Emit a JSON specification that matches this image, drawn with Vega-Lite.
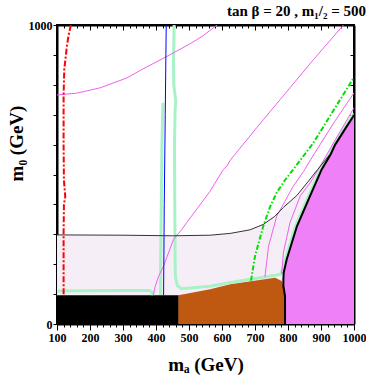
{
  "$schema": "https://vega.github.io/schema/vega-lite/v6.json",
  "width": 297,
  "height": 299,
  "autosize": "none",
  "padding": {"left": 57, "top": 25, "right": 12, "bottom": 58},
  "background": "white",
  "config": {
    "view": {"stroke": "black", "strokeWidth": 2},
    "axis": {"grid": false, "labelFont": "Liberation Serif", "labelFontWeight": "bold", "labelFontSize": 12, "labelColor": "black", "titleFont": "Liberation Serif", "titleFontWeight": "bold", "titleFontSize": 19, "titleColor": "black", "domainColor": "black", "domainWidth": 2, "tickColor": "black", "tickWidth": 1, "format": "d"}
  },
  "title": {"text": "tan β = 20 , m₁/₂ = 500", "anchor": "end", "font": "Liberation Serif", "fontSize": 15, "fontWeight": "bold", "color": "black", "offset": 0},
  "datasets": {
    "lav": [
      {"mA": 100, "m0": 298}, {"mA": 300, "m0": 297}, {"mA": 450, "m0": 295}, {"mA": 564, "m0": 297},
      {"mA": 625, "m0": 303}, {"mA": 685, "m0": 315}, {"mA": 725, "m0": 333}, {"mA": 760, "m0": 360},
      {"mA": 786, "m0": 390}, {"mA": 827, "m0": 430}, {"mA": 860, "m0": 475}, {"mA": 890, "m0": 517},
      {"mA": 927, "m0": 567}
    ],
    "blk": [{"mA": 100, "m0": 96}, {"mA": 469, "m0": 96}],
    "brn": [
      {"mA": 468, "m0": 96}, {"mA": 564, "m0": 116}, {"mA": 625, "m0": 133}, {"mA": 761, "m0": 155},
      {"mA": 781, "m0": 144}, {"mA": 786, "m0": 127}, {"mA": 791, "m0": 93}
    ],
    "pnk": [
      {"m0": 0, "mA": 791}, {"m0": 93, "mA": 791}, {"m0": 127, "mA": 786}, {"m0": 149, "mA": 786},
      {"m0": 172, "mA": 787}, {"m0": 216, "mA": 796}, {"m0": 327, "mA": 827}, {"m0": 416, "mA": 862},
      {"m0": 517, "mA": 902}, {"m0": 567, "mA": 929}, {"m0": 600, "mA": 943}, {"m0": 661, "mA": 978},
      {"m0": 695, "mA": 998}, {"m0": 700, "mA": 1000}
    ],
    "ln": [
      {"id": "mintR", "i": 0, "mA": 455, "m0": 1000}, {"id": "mintR", "i": 1, "mA": 453, "m0": 870},
      {"id": "mintR", "i": 2, "mA": 454, "m0": 800}, {"id": "mintR", "i": 3, "mA": 460, "m0": 745},
      {"id": "mintR", "i": 4, "mA": 458, "m0": 720}, {"id": "mintR", "i": 5, "mA": 456, "m0": 600},
      {"id": "mintR", "i": 6, "mA": 457, "m0": 400}, {"id": "mintR", "i": 7, "mA": 458, "m0": 200},
      {"id": "mintR", "i": 8, "mA": 459, "m0": 155}, {"id": "mintR", "i": 9, "mA": 465, "m0": 128},
      {"id": "mintR", "i": 10, "mA": 478, "m0": 118}, {"id": "mintR", "i": 11, "mA": 564, "m0": 126},
      {"id": "mintR", "i": 12, "mA": 625, "m0": 139}, {"id": "mintR", "i": 13, "mA": 766, "m0": 164},
      {"id": "mintR", "i": 14, "mA": 779, "m0": 167}, {"id": "mintR", "i": 15, "mA": 784, "m0": 185},
      {"id": "mintR", "i": 16, "mA": 792, "m0": 216}, {"id": "mintR", "i": 17, "mA": 822, "m0": 325},
      {"id": "mintR", "i": 18, "mA": 857, "m0": 414}, {"id": "mintR", "i": 19, "mA": 897, "m0": 514},
      {"id": "mintR", "i": 20, "mA": 924, "m0": 565}, {"id": "mintR", "i": 21, "mA": 938, "m0": 598},
      {"id": "mintR", "i": 22, "mA": 973, "m0": 660}, {"id": "mintR", "i": 23, "mA": 995, "m0": 696},
      {"id": "mintR", "i": 24, "mA": 1000, "m0": 704},
      {"id": "mintL", "i": 0, "mA": 421, "m0": 740}, {"id": "mintL", "i": 1, "mA": 418, "m0": 600},
      {"id": "mintL", "i": 2, "mA": 416, "m0": 400}, {"id": "mintL", "i": 3, "mA": 414, "m0": 200},
      {"id": "mintL", "i": 4, "mA": 414, "m0": 97},
      {"id": "mintH", "i": 0, "mA": 101, "m0": 110}, {"id": "mintH", "i": 1, "mA": 200, "m0": 111},
      {"id": "mintH", "i": 2, "mA": 300, "m0": 112}, {"id": "mintH", "i": 3, "mA": 380, "m0": 112},
      {"id": "mintH", "i": 4, "mA": 388, "m0": 106}, {"id": "mintH", "i": 5, "mA": 391, "m0": 97},
      {"id": "blue", "i": 0, "mA": 431, "m0": 1000}, {"id": "blue", "i": 1, "mA": 428, "m0": 700},
      {"id": "blue", "i": 2, "mA": 425, "m0": 400}, {"id": "blue", "i": 3, "mA": 423, "m0": 96},
      {"id": "red", "i": 0, "mA": 142, "m0": 1000}, {"id": "red", "i": 1, "mA": 135, "m0": 965},
      {"id": "red", "i": 2, "mA": 130, "m0": 929}, {"id": "red", "i": 3, "mA": 122, "m0": 851},
      {"id": "red", "i": 4, "mA": 120, "m0": 765}, {"id": "red", "i": 5, "mA": 120, "m0": 600},
      {"id": "red", "i": 6, "mA": 121, "m0": 480}, {"id": "red", "i": 7, "mA": 124, "m0": 440},
      {"id": "red", "i": 8, "mA": 125, "m0": 425}, {"id": "red", "i": 9, "mA": 121, "m0": 400},
      {"id": "red", "i": 10, "mA": 120, "m0": 300}, {"id": "red", "i": 11, "mA": 120, "m0": 200},
      {"id": "red", "i": 12, "mA": 120, "m0": 97},
      {"id": "L1", "i": 0, "mA": 100, "m0": 766}, {"id": "L1", "i": 1, "mA": 160, "m0": 772},
      {"id": "L1", "i": 2, "mA": 231, "m0": 790}, {"id": "L1", "i": 3, "mA": 312, "m0": 823},
      {"id": "L1", "i": 4, "mA": 352, "m0": 848}, {"id": "L1", "i": 5, "mA": 433, "m0": 895},
      {"id": "L1", "i": 6, "mA": 500, "m0": 935}, {"id": "L1", "i": 7, "mA": 540, "m0": 962},
      {"id": "L1", "i": 8, "mA": 585, "m0": 1000},
      {"id": "L2", "i": 0, "mA": 392, "m0": 96}, {"id": "L2", "i": 1, "mA": 396, "m0": 120},
      {"id": "L2", "i": 2, "mA": 408, "m0": 160}, {"id": "L2", "i": 3, "mA": 423, "m0": 194},
      {"id": "L2", "i": 4, "mA": 453, "m0": 283}, {"id": "L2", "i": 5, "mA": 478, "m0": 316},
      {"id": "L2", "i": 6, "mA": 493, "m0": 339}, {"id": "L2", "i": 7, "mA": 564, "m0": 444},
      {"id": "L2", "i": 8, "mA": 604, "m0": 517}, {"id": "L2", "i": 9, "mA": 615, "m0": 528},
      {"id": "L2", "i": 10, "mA": 625, "m0": 548}, {"id": "L2", "i": 11, "mA": 705, "m0": 656},
      {"id": "L2", "i": 12, "mA": 725, "m0": 683}, {"id": "L2", "i": 13, "mA": 877, "m0": 884},
      {"id": "L2", "i": 14, "mA": 968, "m0": 1000},
      {"id": "L3", "i": 0, "mA": 730, "m0": 157}, {"id": "L3", "i": 1, "mA": 741, "m0": 260},
      {"id": "L3", "i": 2, "mA": 766, "m0": 361}, {"id": "L3", "i": 3, "mA": 816, "m0": 461},
      {"id": "L3", "i": 4, "mA": 847, "m0": 510}, {"id": "L3", "i": 5, "mA": 880, "m0": 570},
      {"id": "L3", "i": 6, "mA": 940, "m0": 675}, {"id": "L3", "i": 7, "mA": 1000, "m0": 773},
      {"id": "L4", "i": 0, "mA": 781, "m0": 168}, {"id": "L4", "i": 1, "mA": 786, "m0": 238},
      {"id": "L4", "i": 2, "mA": 806, "m0": 339}, {"id": "L4", "i": 3, "mA": 837, "m0": 428},
      {"id": "L4", "i": 4, "mA": 867, "m0": 472}, {"id": "L4", "i": 5, "mA": 892, "m0": 517},
      {"id": "L4", "i": 6, "mA": 940, "m0": 610}, {"id": "L4", "i": 7, "mA": 1000, "m0": 723},
      {"id": "gdd", "i": 0, "mA": 688, "m0": 145}, {"id": "gdd", "i": 1, "mA": 700, "m0": 227},
      {"id": "gdd", "i": 2, "mA": 725, "m0": 327}, {"id": "gdd", "i": 3, "mA": 745, "m0": 390},
      {"id": "gdd", "i": 4, "mA": 766, "m0": 440}, {"id": "gdd", "i": 5, "mA": 790, "m0": 480},
      {"id": "gdd", "i": 6, "mA": 816, "m0": 517}, {"id": "gdd", "i": 7, "mA": 877, "m0": 606},
      {"id": "gdd", "i": 8, "mA": 927, "m0": 695}, {"id": "gdd", "i": 9, "mA": 1000, "m0": 825}
    ]
  },
  "resolve": {"axis": {"x": "independent", "y": "independent"}},
  "layer": [
    {
      "data": {"name": "lav"},
      "mark": {"type": "area", "color": "#f6eef6", "clip": true},
      "encoding": {
        "x": {"field": "mA", "type": "quantitative", "scale": {"domain": [100, 1000], "nice": false, "zero": false},
          "axis": {"orient": "bottom", "title": "mₐ (GeV)", "values": [100,120,140,160,180,200,220,240,260,280,300,320,340,360,380,400,420,440,460,480,500,520,540,560,580,600,620,640,660,680,700,720,740,760,780,800,820,840,860,880,900,920,940,960,980,1000],
            "labelExpr": "datum.value % 100 === 0 ? datum.label : ''", "labelOverlap": false, "labelFlush": false, "labelPadding": 2,
            "tickSize": {"condition": {"test": "datum.value % 100 === 0", "value": 6}, "value": 3},
            "titleY": 46, "titleBaseline": "alphabetic"}},
        "y": {"field": "m0", "type": "quantitative", "scale": {"domain": [0, 1000], "nice": false, "zero": false},
          "axis": {"orient": "left", "title": "m₀ (GeV)", "values": [0,100,200,300,400,500,600,700,800,900,1000],
            "labelExpr": "datum.value === 0 || datum.value === 1000 ? datum.label : ''", "labelOverlap": false, "labelFlush": false, "tickSize": 4, "labelPadding": 1,
            "titleX": -35, "titleY": 118, "titleBaseline": "alphabetic", "titleAngle": 270}},
        "y2": {"datum": 0}
      }
    },
    {
      "data": {"name": "blk"},
      "mark": {"type": "area", "color": "black", "clip": true},
      "encoding": {
        "x": {"field": "mA", "type": "quantitative", "scale": {"domain": [100, 1000], "nice": false, "zero": false},
          "axis": {"orient": "top", "title": null, "labels": false, "values": [100,120,140,160,180,200,220,240,260,280,300,320,340,360,380,400,420,440,460,480,500,520,540,560,580,600,620,640,660,680,700,720,740,760,780,800,820,840,860,880,900,920,940,960,980,1000],
            "tickSize": {"condition": {"test": "datum.value % 100 === 0", "value": -5}, "value": -3}}},
        "y": {"field": "m0", "type": "quantitative", "scale": {"domain": [0, 1000], "nice": false, "zero": false},
          "axis": {"orient": "right", "title": null, "labels": false, "values": [0,100,200,300,400,500,600,700,800,900,1000], "tickSize": -4}},
        "y2": {"datum": 0}
      }
    },
    {
      "data": {"name": "brn"},
      "mark": {"type": "area", "color": "#bf5810", "clip": true},
      "encoding": {
        "x": {"field": "mA", "type": "quantitative", "axis": null},
        "y": {"field": "m0", "type": "quantitative", "axis": null},
        "y2": {"datum": 0}
      }
    },
    {
      "data": {"name": "pnk"},
      "mark": {"type": "area", "orient": "horizontal", "color": "#f080f8", "clip": true},
      "encoding": {
        "y": {"field": "m0", "type": "quantitative", "axis": null},
        "x": {"field": "mA", "type": "quantitative", "axis": null},
        "x2": {"datum": 1000}
      }
    },
    {
      "data": {"name": "ln"},
      "transform": [{"filter": {"field": "id", "oneOf": ["mintR", "mintL", "mintH"]}}],
      "mark": {"type": "line", "color": "#a8f2c8", "strokeWidth": 3, "clip": true},
      "encoding": {
        "x": {"field": "mA", "type": "quantitative", "axis": null},
        "y": {"field": "m0", "type": "quantitative", "axis": null},
        "detail": {"field": "id"},
        "order": {"field": "i", "type": "quantitative"}
      }
    },
    {
      "data": {"name": "ln"},
      "transform": [{"filter": {"field": "id", "oneOf": ["L1", "L2", "L3", "L4"]}}],
      "mark": {"type": "line", "color": "#f060f0", "strokeWidth": 1, "clip": true},
      "encoding": {
        "x": {"field": "mA", "type": "quantitative", "axis": null},
        "y": {"field": "m0", "type": "quantitative", "axis": null},
        "detail": {"field": "id"},
        "order": {"field": "i", "type": "quantitative"}
      }
    },
    {
      "data": {"name": "ln"},
      "transform": [{"filter": {"field": "id", "equal": "blue"}}],
      "mark": {"type": "line", "color": "#0000ff", "strokeWidth": 1, "clip": true},
      "encoding": {
        "x": {"field": "mA", "type": "quantitative", "axis": null},
        "y": {"field": "m0", "type": "quantitative", "axis": null},
        "order": {"field": "i", "type": "quantitative"}
      }
    },
    {
      "data": {"name": "ln"},
      "transform": [{"filter": {"field": "id", "equal": "red"}}],
      "mark": {"type": "line", "color": "#ff0000", "strokeWidth": 2, "strokeDash": [6, 2, 2, 2], "clip": true},
      "encoding": {
        "x": {"field": "mA", "type": "quantitative", "axis": null},
        "y": {"field": "m0", "type": "quantitative", "axis": null},
        "order": {"field": "i", "type": "quantitative"}
      }
    },
    {
      "data": {"name": "ln"},
      "transform": [{"filter": {"field": "id", "equal": "gdd"}}],
      "mark": {"type": "line", "color": "#00e000", "strokeWidth": 2, "strokeDash": [5, 2, 1.5, 2], "clip": true},
      "encoding": {
        "x": {"field": "mA", "type": "quantitative", "axis": null},
        "y": {"field": "m0", "type": "quantitative", "axis": null},
        "order": {"field": "i", "type": "quantitative"}
      }
    },
    {
      "data": {"name": "lav"},
      "mark": {"type": "line", "color": "#333333", "strokeWidth": 1, "clip": true},
      "encoding": {
        "x": {"field": "mA", "type": "quantitative", "axis": null},
        "y": {"field": "m0", "type": "quantitative", "axis": null}
      }
    },
    {
      "data": {"name": "pnk"},
      "mark": {"type": "line", "color": "black", "strokeWidth": 2, "clip": true},
      "encoding": {
        "x": {"field": "mA", "type": "quantitative", "axis": null},
        "y": {"field": "m0", "type": "quantitative", "axis": null},
        "order": {"field": "m0", "type": "quantitative"}
      }
    }
  ]
}
